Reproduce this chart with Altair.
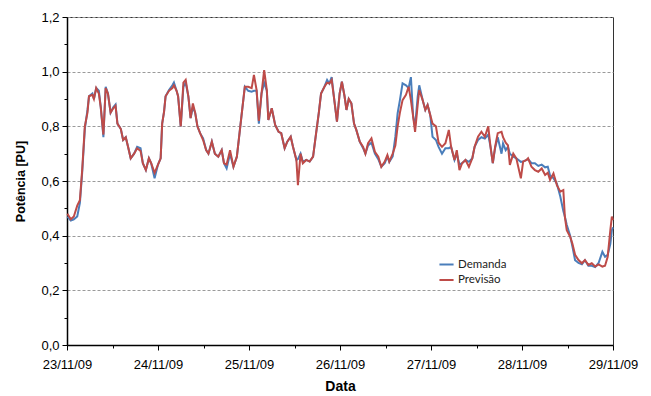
import altair as alt
import pandas as pd

day_labels = ["23/11/09", "24/11/09", "25/11/09", "26/11/09", "27/11/09", "28/11/09", "29/11/09"]
y_ticks = [0.0, 0.2, 0.4, 0.6, 0.8, 1.0, 1.2]
series_names = ["Demanda", "Previsão"]
series_colors = ["#4A7EBB", "#BE4B48"]

# time in hours from 23/11/09 00:00
hours = [
    0.1, 1.0, 1.8, 2.7, 3.4, 4.0, 4.7, 5.4, 5.8, 6.7, 7.1, 7.7, 8.4, 8.9, 9.6, 10.2, 10.8, 11.5, 12.2, 12.8,
    13.3, 14.2, 14.8, 15.5, 16.1, 16.8, 17.7, 18.5, 19.4, 20.0, 20.8, 21.6, 22.2, 23.1, 24.0, 24.7, 25.1, 25.6, 26.0, 26.9,
    27.8,
    28.2, 28.9, 29.3, 30.0, 30.7, 31.3, 32.0, 32.6, 33.2, 33.8, 34.4, 35.1, 35.9, 36.7, 37.3, 38.2, 39.0, 39.9, 40.8, 41.4,
    42.1, 43.0, 43.9, 44.8, 45.4, 46.1, 46.9, 47.8, 48.7, 49.3, 50.0, 50.6, 51.3, 52.0, 52.7, 53.1, 54.0, 54.9, 55.8,
    56.5, 57.4, 58.1, 59.0, 59.6, 60.5, 60.9, 61.6, 62.2, 63.1, 64.0, 64.9, 65.7, 66.4, 67.0, 67.9, 68.6, 69.2, 69.8, 70.5,
    71.2, 71.9, 72.5, 73.2, 73.7, 74.3, 75.0, 75.7, 76.3, 77.2, 78.1, 78.7, 79.4, 80.3, 81.2, 82.1, 82.9, 83.8, 84.5,
    85.0, 85.9, 86.6, 87.2, 87.8, 88.5, 89.4, 90.1, 90.7, 91.3, 91.8, 92.5, 92.9, 93.8, 94.5, 95.1, 95.8, 96.4, 97.3, 98.0,
    98.9, 99.8, 100.7, 101.3, 102.2, 102.8, 103.5, 104.2, 105.1, 106.0, 106.9, 107.5, 108.4, 109.3, 110.2, 111.1, 111.7,
    112.3, 112.9, 113.6,
    114.6, 115.0, 115.7, 116.3, 116.8, 117.7, 118.5, 119.7, 120.3, 121.2, 121.6, 122.5, 123.4, 124.3, 125.2, 126.1, 126.8,
    127.4, 128.3, 129.2, 130.1, 130.9, 131.3, 131.8, 132.7, 133.3, 134.0, 134.9, 135.8, 136.6, 137.5, 138.4, 139.3, 140.2,
    141.2, 141.9, 142.6, 143.3, 143.7, 144.0,
]

demanda = [
    0.47, 0.455, 0.46, 0.47, 0.52, 0.63, 0.79, 0.86, 0.91, 0.92, 0.90, 0.94, 0.93, 0.87, 0.76, 0.945, 0.92, 0.85, 0.87, 0.88,
    0.81, 0.79, 0.75, 0.76, 0.725, 0.683, 0.70, 0.725, 0.72, 0.665, 0.64, 0.683, 0.665, 0.61, 0.66, 0.683, 0.81, 0.854, 0.91, 0.933,
    0.95,
    0.96, 0.93, 0.91, 0.80, 0.945, 0.96, 0.91, 0.83, 0.87, 0.85, 0.80, 0.775, 0.756, 0.713, 0.70, 0.744, 0.70, 0.689, 0.713, 0.665,
    0.646, 0.70, 0.652, 0.689, 0.762, 0.848, 0.945, 0.93, 0.927, 0.93, 0.93, 0.81, 0.92, 0.96, 0.93, 0.823, 0.866, 0.805, 0.78,
    0.775, 0.72, 0.744, 0.762, 0.725, 0.677, 0.68, 0.70, 0.67, 0.677, 0.671, 0.689, 0.775, 0.848, 0.92, 0.945, 0.97, 0.957, 0.98, 0.896,
    0.817, 0.92, 0.963, 0.91, 0.86, 0.90, 0.884, 0.81, 0.787, 0.744, 0.72, 0.70, 0.73, 0.74, 0.70, 0.68, 0.652, 0.665, 0.69,
    0.67, 0.69, 0.762, 0.848, 0.896, 0.957, 0.95, 0.94, 0.98, 0.835, 0.80, 0.91, 0.95, 0.896, 0.86, 0.878, 0.841, 0.762, 0.75, 0.725,
    0.70, 0.72, 0.72, 0.725, 0.677, 0.70, 0.66, 0.665, 0.677, 0.67, 0.683, 0.725, 0.75, 0.76, 0.755, 0.77, 0.725,
    0.665, 0.72, 0.76,
    0.70, 0.738, 0.713, 0.725, 0.70, 0.689, 0.683, 0.67, 0.671, 0.677, 0.68, 0.665, 0.665, 0.655, 0.66, 0.65, 0.652,
    0.62, 0.61, 0.59, 0.543, 0.49, 0.47, 0.44, 0.40, 0.36, 0.31, 0.30, 0.295, 0.31, 0.29, 0.29, 0.285, 0.30,
    0.341, 0.323, 0.33, 0.37, 0.42, 0.43,
]

previsao = [
    0.48, 0.46, 0.47, 0.51, 0.53, 0.64, 0.80, 0.85, 0.91, 0.915, 0.90, 0.94, 0.92, 0.87, 0.77, 0.94, 0.92, 0.85, 0.866, 0.875,
    0.81, 0.79, 0.75, 0.76, 0.725, 0.683, 0.70, 0.72, 0.71, 0.665, 0.64, 0.683, 0.665, 0.63, 0.66, 0.683, 0.81, 0.854, 0.91, 0.93,
    0.94,
    0.95, 0.93, 0.91, 0.80, 0.96, 0.97, 0.91, 0.83, 0.884, 0.85, 0.80, 0.775, 0.75, 0.713, 0.70, 0.744, 0.70, 0.689, 0.713, 0.665,
    0.66, 0.713, 0.652, 0.689, 0.762, 0.848, 0.945, 0.945, 0.94, 0.988, 0.933, 0.82, 0.92, 1.006, 0.933, 0.823, 0.866, 0.805, 0.78,
    0.775, 0.72, 0.744, 0.762, 0.725, 0.677, 0.585, 0.70, 0.665, 0.677, 0.671, 0.689, 0.775, 0.848, 0.92, 0.945, 0.96, 0.957, 0.97, 0.896,
    0.817, 0.92, 0.963, 0.91, 0.86, 0.90, 0.884, 0.81, 0.787, 0.744, 0.725, 0.70, 0.738, 0.756, 0.707, 0.689, 0.652, 0.671, 0.695,
    0.671, 0.70, 0.73, 0.80, 0.85, 0.896, 0.915, 0.945, 0.896, 0.835, 0.78, 0.88, 0.933, 0.896, 0.86, 0.878, 0.841, 0.81, 0.80, 0.74,
    0.725, 0.738, 0.787, 0.725, 0.677, 0.713, 0.64, 0.665, 0.677, 0.652, 0.683, 0.725, 0.762, 0.78, 0.762, 0.80, 0.725,
    0.665, 0.725, 0.775,
    0.78, 0.76, 0.74, 0.73, 0.659, 0.70, 0.683, 0.61, 0.671, 0.677, 0.683, 0.652, 0.64, 0.634, 0.646, 0.622, 0.63,
    0.604, 0.628, 0.585, 0.561, 0.567, 0.47, 0.42, 0.396, 0.37, 0.33, 0.311, 0.299, 0.311, 0.293, 0.299, 0.287, 0.295,
    0.287, 0.29, 0.323, 0.42, 0.47, 0.457,
]

n = len(hours)
df = pd.DataFrame({
    "h": hours + hours,
    "v": demanda + previsao,
    "serie": [series_names[0]] * n + [series_names[1]] * n,
})

FONT = "Liberation Sans"
label_expr = "[" + ",".join(f"'{d}'" for d in day_labels) + "][round(datum.value / 24)]"
day_ticks = [24 * i for i in range(len(day_labels))]
half_ticks = [24 * i + 12 for i in range(len(day_labels) - 1)]
minor_y = [0.1, 0.3, 0.5, 0.7, 0.9, 1.1]

x_scale = alt.Scale(domain=[0, 144], nice=False, zero=False)
y_scale = alt.Scale(domain=[0, 1.2], nice=False)
color = alt.Color(
    "serie:N",
    scale=alt.Scale(domain=series_names, range=series_colors),
    legend=alt.Legend(
        title=None, orient="none", legendX=371, legendY=239,
        symbolType="stroke", symbolSize=200, symbolStrokeWidth=2,
        labelFont="Lato", labelFontSize=11.5, labelColor="#222",
        labelOffset=3, rowPadding=1.5, padding=0,
    ),
)

minor_layer = alt.Chart(df).transform_filter(
    alt.datum.serie == series_names[0]
).mark_line(strokeWidth=2).encode(
    x=alt.X("h:Q", scale=x_scale, axis=alt.Axis(
        orient="bottom", values=half_ticks, labels=False, domain=False, grid=False,
        tickSize=3, tickColor="#000", title=None)),
    y=alt.Y("v:Q", scale=y_scale, axis=alt.Axis(
        orient="left", values=minor_y, labels=False, domain=False, grid=False,
        tickSize=3, tickColor="#000", title=None)),
    color=color,
)

main_layer = alt.Chart(df).transform_filter(
    alt.datum.serie == series_names[1]
).mark_line(strokeWidth=2).encode(
    x=alt.X("h:Q", scale=x_scale, axis=alt.Axis(
        orient="bottom", values=day_ticks, labelExpr=label_expr, grid=False,
        title="Data", titleFont=FONT, titleFontSize=14, titleFontWeight="bold", titleColor="#000",
        titleY=41, titleBaseline="middle",
        labelFont=FONT, labelFontSize=13, labelColor="#000", labelPadding=8,
        tickSize=5, tickColor="#000", domainColor="#000", domainWidth=1.5,
        labelOverlap=False, labelFlush=False)),
    y=alt.Y("v:Q", scale=y_scale, axis=alt.Axis(
        orient="left", values=y_ticks,
        labelExpr="replace(format(datum.value, '.1f'), '.', ',')",
        grid=True, gridDash=[3, 2], gridColor="#9a9a9a", gridWidth=1,
        title="Potência [PU]", titleFont=FONT, titleFontSize=12.5, titleFontWeight="bold", titleColor="#000",
        titleX=-47, titleBaseline="middle",
        labelFont=FONT, labelFontSize=13, labelColor="#000", labelPadding=3,
        tickSize=5, tickColor="#000", domainColor="#000", domainWidth=1.5)),
    color=color,
)

chart = alt.layer(minor_layer, main_layer).resolve_axis(
    x="independent", y="independent"
).properties(
    width=546, height=328,
    autosize=alt.AutoSizeParams(type="none"),
    padding={"left": 67, "top": 17, "right": 38, "bottom": 51},
    background="white",
).configure_view(stroke="#333333", strokeWidth=1)

chart.save("out.html", embed_options={"renderer": "svg", "actions": False})
